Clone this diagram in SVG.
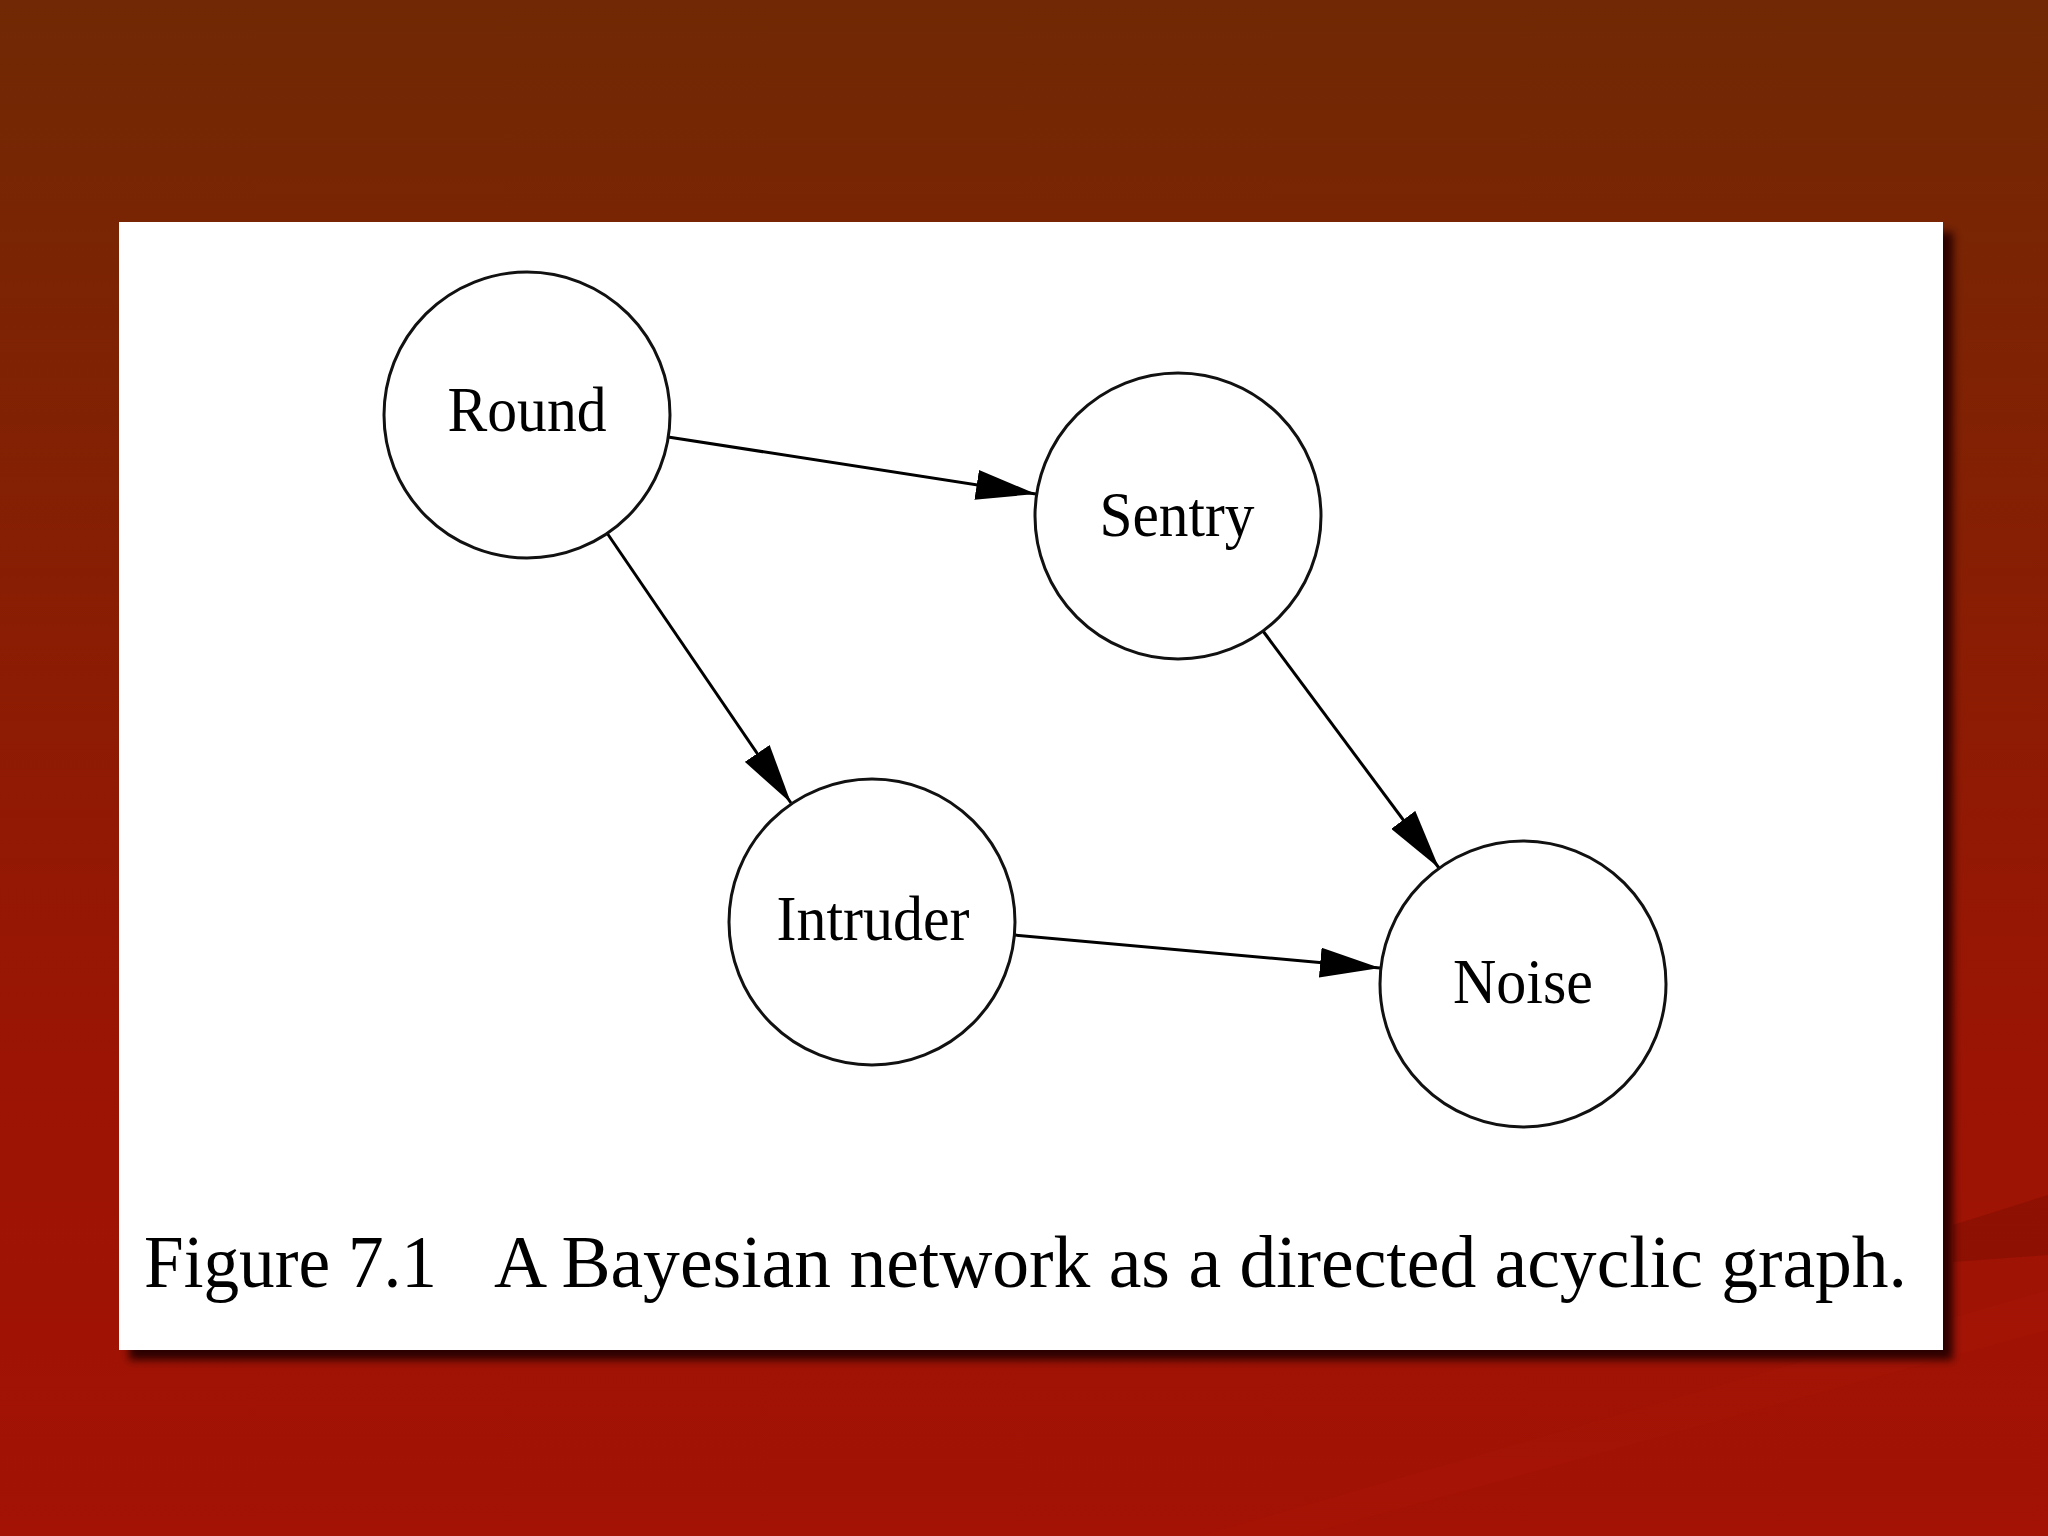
<svg xmlns="http://www.w3.org/2000/svg" width="2048" height="1536" viewBox="0 0 2048 1536">
  <defs>
    <linearGradient id="bg" x1="0" y1="0" x2="0" y2="1">
      <stop offset="0" stop-color="#702904"/>
      <stop offset="0.35" stop-color="#861f03"/>
      <stop offset="0.7" stop-color="#9c1404"/>
      <stop offset="1" stop-color="#a31204"/>
    </linearGradient>
    <filter id="blur" x="-5%" y="-5%" width="110%" height="110%">
      <feGaussianBlur stdDeviation="4"/>
    </filter>
    <marker id="arrow" viewBox="0 0 60 30" refX="60" refY="15" markerWidth="60" markerHeight="30" markerUnits="userSpaceOnUse" orient="auto">
      <path d="M0,0 L60,15 L0,30 Z" fill="#000"/>
    </marker>
    <style>
      .node circle { fill: #fff; stroke: #111; stroke-width: 3; }
      .node text { font-family: "Liberation Serif", "Times New Roman", serif; font-size: 64px; fill: #000; text-anchor: middle; }
      .edges line { stroke: #000; stroke-width: 3; marker-end: url(#arrow); }
      .caption { font-family: "Liberation Serif", "Times New Roman", serif; font-size: 73px; fill: #000; }
    </style>
  </defs>

  <rect x="0" y="0" width="2048" height="1536" fill="url(#bg)"/>
  <path d="M1953,1225 L2048,1195 L2048,1255 L1953,1262 Z" fill="#7e0e02" opacity="0.5"/>
  <path d="M1200,1536 L2048,1290 L2048,1330 L1300,1536 Z" fill="#b01a08" opacity="0.2"/>

  <rect x="129" y="232" width="1824" height="1128" fill="#2a0400" filter="url(#blur)"/>
  <rect x="119" y="222" width="1824" height="1128" fill="#ffffff"/>

  <g class="edges" id="connectors">
    <line x1="668" y1="437" x2="1036" y2="494"/>
    <line x1="607" y1="533" x2="791" y2="803"/>
    <line x1="1263" y1="631" x2="1439" y2="868"/>
    <line x1="1014" y1="935" x2="1380" y2="968"/>
  </g>

  <g class="node" id="node-round">
    <circle cx="527" cy="415" r="143"/>
    <text x="527" y="431" textLength="159" lengthAdjust="spacingAndGlyphs">Round</text>
  </g>
  <g class="node" id="node-sentry">
    <circle cx="1178" cy="516" r="143"/>
    <text x="1177" y="536" textLength="155" lengthAdjust="spacingAndGlyphs">Sentry</text>
  </g>
  <g class="node" id="node-intruder">
    <circle cx="872" cy="922" r="143"/>
    <text x="873" y="940" textLength="193" lengthAdjust="spacingAndGlyphs">Intruder</text>
  </g>
  <g class="node" id="node-noise">
    <circle cx="1523" cy="984" r="143"/>
    <text x="1523" y="1003" textLength="140" lengthAdjust="spacingAndGlyphs">Noise</text>
  </g>

  <text class="caption" y="1287"><tspan x="144" textLength="293" lengthAdjust="spacingAndGlyphs">Figure 7.1</tspan><tspan x="494" textLength="1413" lengthAdjust="spacingAndGlyphs">A Bayesian network as a directed acyclic graph.</tspan></text>
</svg>
